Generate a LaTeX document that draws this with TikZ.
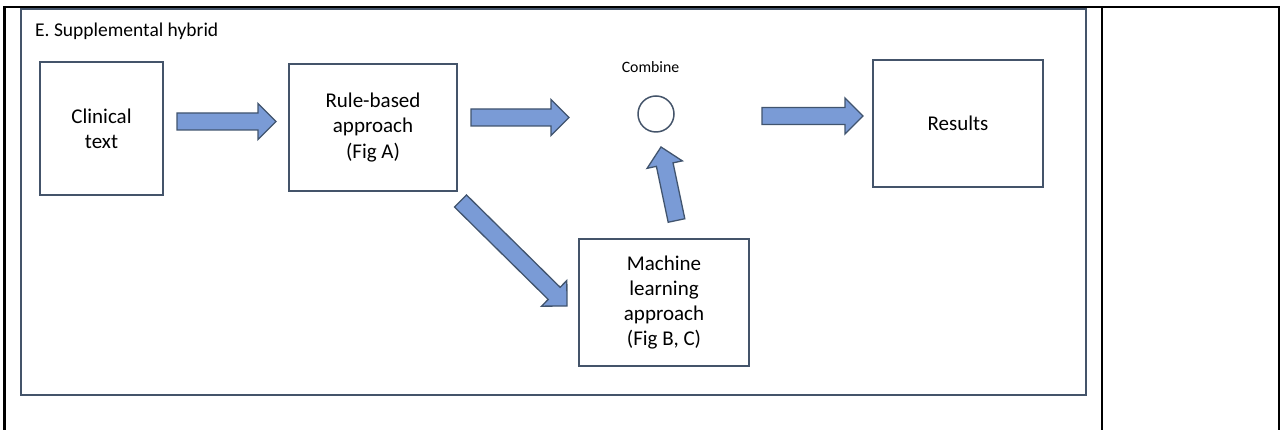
\documentclass[tikz,border=0pt]{standalone}
\usepackage{fontspec}
\setmainfont{Carlito}
\usetikzlibrary{calc}
\definecolor{slate}{HTML}{44546A}
\definecolor{afill}{HTML}{7A9BD6}
\definecolor{aline}{HTML}{41546E}
\tikzset{
  box/.style={draw=slate, line width=1.5pt, fill=white, align=center, inner sep=0pt,
    font=\fontsize{21}{25.3}\selectfont},
  barrow/.style={draw=aline, fill=afill, line width=1.3pt, line join=miter},
  blackline/.style={draw=black, line width=2.2pt},
  framebox/.style={draw=slate, line width=2pt},
}
\newcommand{\blockarrow}[2]{%
  \draw[barrow] let \p1=(#1), \p2=(#2),
    \n1={atan2(\y2-\y1,\x2-\x1)}, \n2={veclen(\x2-\x1,\y2-\y1)} in
    (\p1) ++(\n1+90:8.5) -- ++(\n1:\n2-18) -- ++(\n1+90:9.5) -- (\p2)
    -- ++(\n1-135:25.456) -- ++(\n1+90:9.5) -- ++(\n1+180:\n2-18) -- cycle;
}
\begin{document}
\begin{tikzpicture}[x=1pt,y=1pt]
\useasboundingbox (0,0) rectangle (1281,430);
% outer table lines
\coordinate (tl) at (3.4,423);
\coordinate (tr) at (1280.1,423);
\draw[blackline] (tl) -- (tr);
\draw[blackline] (4.5,0) -- (4.5,424.1);
\draw[blackline] (1102,0) -- (1102,424.1);
\draw[blackline] (1279,0) -- (1279,424.1);
% panel frame
\draw[framebox] (20.5,35) rectangle (1086,420.5);
\node[anchor=base west, inner sep=0pt, font=\fontsize{19.5}{24}\selectfont] (title) at (35,393) {E. Supplemental hybrid};
% boxes
\node[box, minimum width=123pt, minimum height=133pt] (clin) at (101.5,301.5) {Clinical\\text};
\node[box, minimum width=168pt, minimum height=127pt] (rule) at (373,302.5) {Rule-based\\approach\\(Fig A)};
\node[box, minimum width=170pt, minimum height=127pt] (ml) at (664,127.5) {Machine\\learning\\approach\\(Fig B, C)};
\node[box, minimum width=170pt, minimum height=127pt] (res) at (958,306.5) {Results};
\node[draw=slate, line width=1.5pt, circle, minimum size=36pt, inner sep=0pt] (comb) at (656,316) {};
\node[anchor=base, inner sep=0pt, font=\fontsize{15.8}{18}\selectfont] (combl) at (650.5,357) {Combine};
% arrows
\coordinate (a1s) at (177,308.5); \coordinate (a1e) at (276,308.5);
\coordinate (a2s) at (471,312.5); \coordinate (a2e) at (569,312.5);
\coordinate (a3s) at (762,314);   \coordinate (a3e) at (863,314);
\coordinate (a4s) at (460.5,229); \coordinate (a4e) at (567,124);
\coordinate (a5s) at (676.5,209.5); \coordinate (a5e) at (661,283);
\blockarrow{a1s}{a1e}
\blockarrow{a2s}{a2e}
\blockarrow{a3s}{a3e}
\blockarrow{a4s}{a4e}
\blockarrow{a5s}{a5e}
\end{tikzpicture}
\end{document}
